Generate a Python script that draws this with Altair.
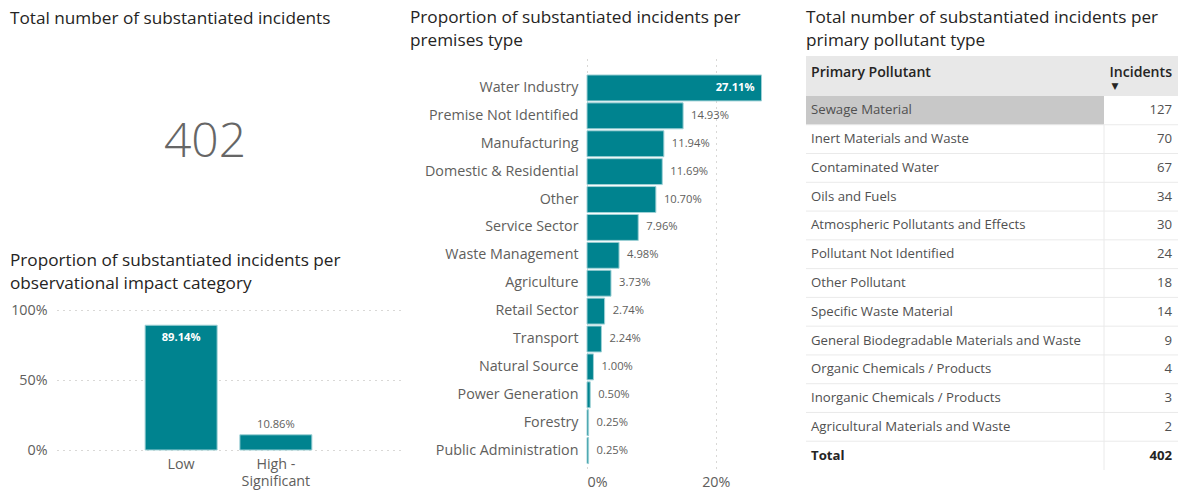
import altair as alt
import pandas as pd

FONT = "Open Sans"
TEAL = "#00838F"
GRAY = "#605E5C"
DARK = "#252423"
TITLE_FS = 17.2
LAB_FS = 14.3

# ---------------- data ----------------
total_incidents = 402

impact_cats = ["Low", "High - Significant"]
impact_vals = [0.8914, 0.1086]

premises = ["Water Industry", "Premise Not Identified", "Manufacturing",
            "Domestic & Residential", "Other", "Service Sector",
            "Waste Management", "Agriculture", "Retail Sector", "Transport",
            "Natural Source", "Power Generation", "Forestry",
            "Public Administration"]
premise_vals = [0.2711, 0.1493, 0.1194, 0.1169, 0.1070, 0.0796, 0.0498,
                0.0373, 0.0274, 0.0224, 0.0100, 0.0050, 0.0025, 0.0025]

pollutants = ["Sewage Material", "Inert Materials and Waste",
              "Contaminated Water", "Oils and Fuels",
              "Atmospheric Pollutants and Effects", "Pollutant Not Identified",
              "Other Pollutant", "Specific Waste Material",
              "General Biodegradable Materials and Waste",
              "Organic Chemicals / Products", "Inorganic Chemicals / Products",
              "Agricultural Materials and Waste"]
pollutant_counts = [127, 70, 67, 34, 30, 24, 18, 14, 9, 4, 3, 2]
table_headers = ["Primary Pollutant", "Incidents"]
total_label = "Total"

titles = {
    "kpi": ["Total number of substantiated incidents"],
    "impact": ["Proportion of substantiated incidents per",
               "observational impact category"],
    "premises": ["Proportion of substantiated incidents per", "premises type"],
    "pollutant": ["Total number of substantiated incidents per",
                  "primary pollutant type"],
}


def title(lines, offset, frame="bounds", dx=0):
    return alt.TitleParams(text=lines, anchor="start", frame=frame,
                           fontSize=TITLE_FS, font=FONT, color=DARK,
                           fontWeight="normal", lineHeight=23, offset=offset,
                           dx=dx)


# ---------------- KPI ----------------
kpi = alt.Chart(pd.DataFrame({"v": [total_incidents]})).mark_text(
    fontSize=48, font=FONT, fontWeight=300, color="#666666", dy=-6
).encode(text="v:Q").properties(
    width=296, height=186, title=title(titles["kpi"], 29.3, "group", -47))

# ---------------- impact bar chart ----------------
impact_df = pd.DataFrame({"cat": impact_cats, "val": impact_vals})
ib = alt.Chart(impact_df).encode(
    x=alt.X("cat:N", sort=impact_cats,
            scale=alt.Scale(paddingInner=0.24, paddingOuter=0.93),
            axis=alt.Axis(title=None, labelAngle=0, domain=False, ticks=False,
                          labelFontSize=LAB_FS, labelColor=GRAY, labelFont=FONT,
                          labelPadding=7, labelLineHeight=17,
                          labelExpr="datum.value == 'High - Significant' ? ['High -', 'Significant'] : datum.value")),
    y=alt.Y("val:Q", scale=alt.Scale(domain=[0, 1], nice=False),
            axis=alt.Axis(title=None, values=[0, 0.5, 1], format=".0%",
                          domain=False, ticks=False, grid=True,
                          gridDash=[1, 5], gridColor="#B3B0AD",
                          labelFontSize=LAB_FS, labelColor=GRAY, labelFont=FONT,
                          labelPadding=10, minExtent=47)),
)
ib_bars = ib.mark_bar(color=TEAL, stroke="#9fd1d6", strokeWidth=1)
ib_in = ib.transform_filter("datum.val > 0.5").mark_text(
    baseline="top", dy=7, color="white", fontWeight="bold", fontSize=11.2,
    font=FONT).encode(text=alt.Text("val:Q", format=".2%"))
ib_out = ib.transform_filter("datum.val <= 0.5").mark_text(
    baseline="bottom", dy=-5, color=GRAY, fontSize=11.2,
    font=FONT).encode(text=alt.Text("val:Q", format=".2%"))
impact = alt.layer(ib_bars, ib_in, ib_out).properties(
    width=343, height=140, title=title(titles["impact"], 10.5))

col1 = alt.concat(kpi, impact, columns=1, spacing=10)

# ---------------- premises bar chart ----------------
prem_df = pd.DataFrame({"cat": premises, "val": premise_vals})
hb = alt.Chart(prem_df).encode(
    y=alt.Y("cat:N", sort=premises,
            scale=alt.Scale(paddingInner=0.07, paddingOuter=0.42, align=0.81),
            axis=alt.Axis(title=None, domain=False, ticks=False,
                          labelFontSize=LAB_FS, labelColor=GRAY, labelFont=FONT,
                          labelPadding=9, minExtent=177)),
    x=alt.X("val:Q", scale=alt.Scale(domain=[0, 0.32], nice=False),
            axis=alt.Axis(title=None, values=[0, 0.2], format=".0%",
                          domain=False, ticks=False, grid=True,
                          gridDash=[1, 5], gridColor="#B3B0AD",
                          labelFontSize=LAB_FS, labelColor=GRAY, labelFont=FONT,
                          labelPadding=7)),
)
hb_bars = hb.mark_bar(color=TEAL, stroke="#9fd1d6", strokeWidth=1)
hb_in = hb.transform_filter("datum.val > 0.2").mark_text(
    align="right", dx=-7, color="white", fontWeight="bold", fontSize=11.2,
    font=FONT).encode(text=alt.Text("val:Q", format=".2%"))
hb_out = hb.transform_filter("datum.val <= 0.2").mark_text(
    align="left", dx=8, color=GRAY, fontSize=11.2,
    font=FONT).encode(text=alt.Text("val:Q", format=".2%"))
prem = alt.layer(hb_bars, hb_in, hb_out).properties(
    width=206, height=412, title=title(titles["premises"], 7))

# ---------------- table ----------------
TW = 372
C1 = 298
TFS = 13.2
HFS = 14.1
hdr_df = pd.DataFrame({"h": table_headers})
hdr_base = alt.Chart(hdr_df)
hdr_bg = hdr_base.transform_filter(alt.datum.h == table_headers[0]).mark_rect(
    color="#E8E8E8").encode(x=alt.value(0), x2=alt.value(TW),
                            y=alt.value(0), y2=alt.value(40))
hdr_name = hdr_base.transform_filter(alt.datum.h == table_headers[0]).mark_text(
    align="left", baseline="middle", fontSize=HFS, font=FONT, fontWeight=600,
    color=DARK).encode(text="h:N", x=alt.value(5), y=alt.value(17))
hdr_inc = hdr_base.transform_filter(alt.datum.h == table_headers[1]).mark_text(
    align="right", baseline="middle", fontSize=HFS, font=FONT, fontWeight=600,
    color=DARK).encode(text="h:N", x=alt.value(TW - 6), y=alt.value(17))
hdr_arrow = hdr_base.transform_filter(alt.datum.h == table_headers[1]).mark_text(
    text="▼", fontSize=9, font="DejaVu Sans", color=DARK
).encode(x=alt.value(C1 + 11), y=alt.value(30))
header = alt.layer(hdr_bg, hdr_name, hdr_inc, hdr_arrow).properties(
    width=TW, height=40, title=title(titles["pollutant"], 7))

rows = pollutants + [total_label]
row_df = pd.DataFrame({"name": rows, "n": pollutant_counts + [total_incidents]})
ysc = alt.Scale(paddingInner=0, paddingOuter=0)
rb = alt.Chart(row_df).encode(
    y=alt.Y("name:N", sort=rows, axis=None, scale=ysc))
r_hl = rb.transform_filter(alt.datum.name == pollutants[0]).mark_rect(
    color="#C8C8C8").encode(x=alt.value(0), x2=alt.value(C1))
r_lines = rb.transform_filter(alt.datum.name != pollutants[0]).mark_rule(
    color="#EAEAEA", strokeWidth=1).encode(
    y=alt.Y("name:N", sort=rows, axis=None, scale=ysc, bandPosition=0),
    x=alt.value(0), x2=alt.value(TW))
r_vline = rb.transform_filter(alt.datum.name != pollutants[0]).mark_rule(
    color="#EAEAEA", strokeWidth=1).encode(
    y=alt.Y("name:N", sort=rows, axis=None, scale=ysc, bandPosition=0),
    y2=alt.Y2("name:N", bandPosition=1),
    x=alt.value(C1))
r_names = rb.transform_filter(alt.datum.name != total_label).mark_text(
    align="left", fontSize=TFS, font=FONT, color="#505050").encode(
    text="name:N", x=alt.value(5))
r_vals = rb.transform_filter(alt.datum.name != total_label).mark_text(
    align="right", fontSize=TFS, font=FONT, color="#505050").encode(
    text="n:Q", x=alt.value(TW - 6))
r_tname = rb.transform_filter(alt.datum.name == total_label).mark_text(
    align="left", fontSize=TFS, font=FONT, color=DARK, fontWeight="bold").encode(
    text="name:N", x=alt.value(5))
r_tval = rb.transform_filter(alt.datum.name == total_label).mark_text(
    align="right", fontSize=TFS, font=FONT, color=DARK, fontWeight="bold").encode(
    text="n:Q", x=alt.value(TW - 6))
table_rows = alt.layer(r_hl, r_lines, r_vline, r_names, r_vals, r_tname,
                       r_tval).properties(width=TW, height=374)

table = alt.concat(header, table_rows, columns=1, spacing=0)

right = alt.concat(prem, table, columns=2, spacing=12)
chart = alt.concat(col1, right, columns=2, spacing=10).properties(
    padding={"left": 2, "top": 0, "right": 0, "bottom": 0},
    background="white"
).configure_view(stroke=None)

chart.save("out.html", embed_options={"renderer": "svg", "actions": False})
